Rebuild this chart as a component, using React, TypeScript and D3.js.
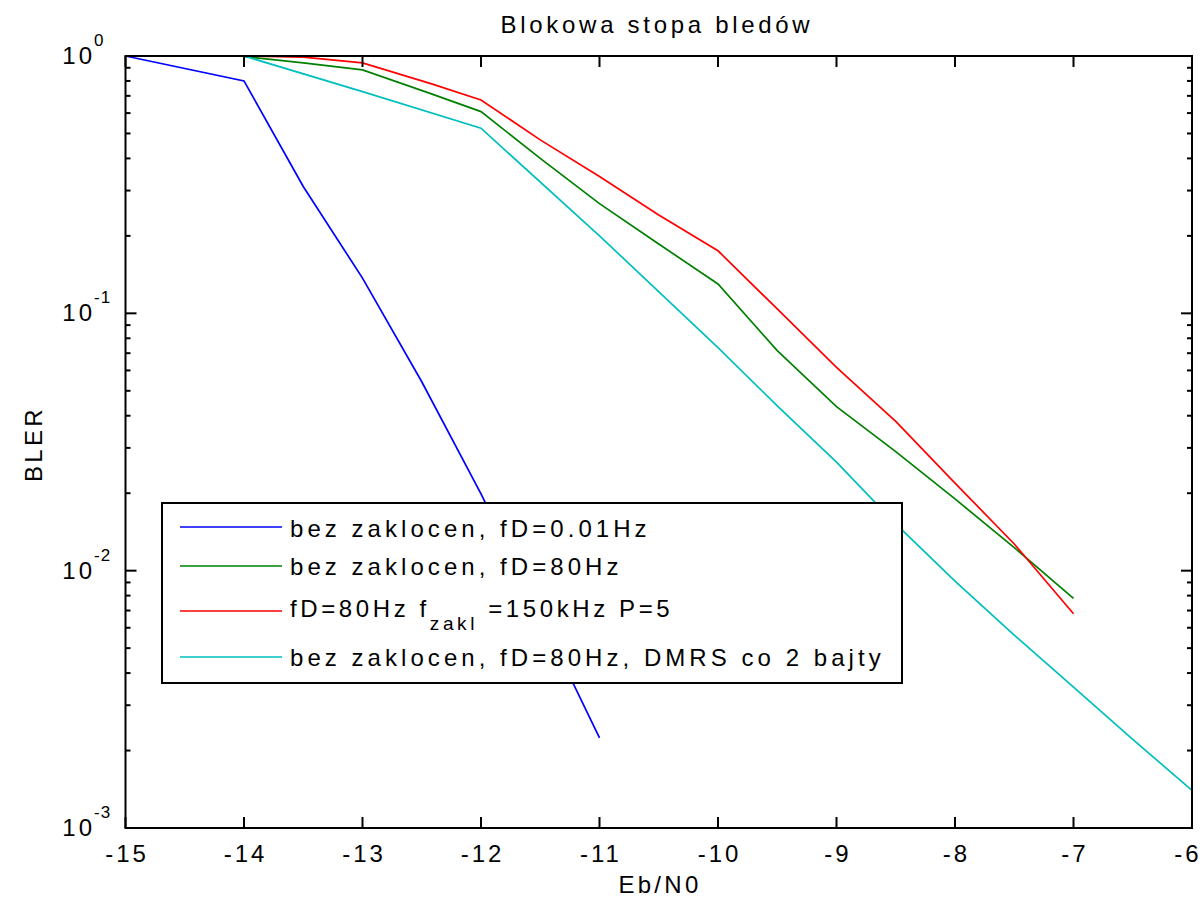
import React from "react";
import * as d3 from "d3";

const xTicks = [-15, -14, -13, -12, -11, -10, -9, -8, -7, -6];
const yDecades = [1, 0.1, 0.01, 0.001];
const yExponents = ["0", "-1", "-2", "-3"];

const xBlue = [-15, -14, -13.5, -13, -12.5, -12, -11.5, -11];
const blueVals = [1.0, 0.8, 0.311, 0.137, 0.0542, 0.0199, 0.0067, 0.00224];

const xGreen = [-14, -13.5, -13, -12.43, -12, -11.5, -11, -10.5, -10, -9.5, -9, -8.5, -8, -7.5, -7];
const greenVals = [0.995, 0.94, 0.883, 0.716, 0.608, 0.4, 0.267, 0.186, 0.13, 0.0716, 0.0434, 0.029, 0.019, 0.0123, 0.0078];

const xRed = [-14, -13.5, -13, -12.43, -12, -11.5, -11, -10.5, -10, -9.5, -9, -8.5, -8, -7.5, -7];
const redVals = [1.0, 0.99, 0.94, 0.783, 0.675, 0.472, 0.34, 0.241, 0.175, 0.104, 0.0617, 0.038, 0.0219, 0.0127, 0.0068];

const xCyan = [-14, -13, -12, -11, -10, -9.5, -9, -8.5, -8, -7.5, -7, -6.5, -6];
const cyanVals = [1.0, 0.727, 0.524, 0.2, 0.0736, 0.0437, 0.0264, 0.0152, 0.0091, 0.00562, 0.00353, 0.00221, 0.0014];

const seriesNames = [
  "bez zaklocen, fD=0.01Hz",
  "bez zaklocen, fD=80Hz",
  "fD=80Hz f_zakl =150kHz P=5",
  "bez zaklocen, fD=80Hz, DMRS co 2 bajty",
];
const seriesColors = ["#0000ff", "#008000", "#ff0000", "#00bfbf"];

const W = 1204;
const H = 903;
const L = 125.5, R = 1192, T = 56, B = 828;
const FONT = "'Liberation Sans', Arial, sans-serif";

export default function App() {
  const x = d3.scaleLinear().domain([-15, -6]).range([L, R]);
  const y = d3.scaleLog().domain([1e-3, 1]).range([B, T]);
  const line = d3
    .line<[number, number]>()
    .x((d) => x(d[0]))
    .y((d) => y(d[1]));

  const series = [
    { xs: xBlue, ys: blueVals },
    { xs: xGreen, ys: greenVals },
    { xs: xRed, ys: redVals },
    { xs: xCyan, ys: cyanVals },
  ];

  const minor: number[] = [];
  [1, 0.1, 0.01].forEach((d) => {
    for (let k = 2; k <= 9; k++) minor.push((d / 10) * k);
  });

  const legRows = [527, 566, 611, 657];
  const legBase = [537, 575, 617, 666];

  return (
    <svg
      width={W}
      height={H}
      style={{ position: "absolute", left: 0, top: 0, background: "#fff" }}
      fontFamily={FONT}
    >
      <rect x={0} y={0} width={W} height={H} fill="#fff" />
      {series.map((s, i) => (
        <path
          key={i}
          d={line(s.xs.map((v, j) => [v, s.ys[j]] as [number, number])) || ""}
          fill="none"
          stroke={seriesColors[i]}
          strokeWidth={1.7}
        />
      ))}
      <rect x={L} y={T} width={R - L} height={B - T} fill="none" stroke="#000" strokeWidth={2} />
      {xTicks.map((t) => (
        <g key={"x" + t}>
          <line x1={x(t)} x2={x(t)} y1={B} y2={B - 11} stroke="#000" strokeWidth={2} />
          <line x1={x(t)} x2={x(t)} y1={T} y2={T + 11} stroke="#000" strokeWidth={2} />
          <text
            x={Math.min(x(t) + 1.5, W - 16)}
            y={862}
            textAnchor="middle"
            fontSize={24}
            letterSpacing={3}
            fill="#000"
          >
            {String(t)}
          </text>
        </g>
      ))}
      {yDecades.map((d, i) => (
        <g key={"y" + d}>
          <line x1={L} x2={L + 11} y1={y(d)} y2={y(d)} stroke="#000" strokeWidth={2} />
          <line x1={R} x2={R - 11} y1={y(d)} y2={y(d)} stroke="#000" strokeWidth={2} />
          <text x={95} y={y(d) + 8} textAnchor="end" fontSize={24} letterSpacing={3} fill="#000">
            10
          </text>
          <text x={94} y={y(d) - 10} fontSize={17} letterSpacing={1} fill="#000">
            {yExponents[i]}
          </text>
        </g>
      ))}
      {minor.map((m) => (
        <g key={"m" + m}>
          <line x1={L} x2={L + 5} y1={y(m)} y2={y(m)} stroke="#000" strokeWidth={2} />
          <line x1={R} x2={R - 5} y1={y(m)} y2={y(m)} stroke="#000" strokeWidth={2} />
        </g>
      ))}
      <text x={657} y={33} textAnchor="middle" fontSize={24} letterSpacing={3.7} fill="#000">
        Blokowa stopa bledów
      </text>
      <text x={660} y={893} textAnchor="middle" fontSize={24} letterSpacing={3.3} fill="#000">
        Eb/N0
      </text>
      <text
        transform={`translate(42,444) rotate(-90)`}
        textAnchor="middle"
        fontSize={24}
        letterSpacing={3.3}
        fill="#000"
      >
        BLER
      </text>
      <rect x={162} y={503} width={740} height={180} fill="#fff" stroke="#000" strokeWidth={2} />
      {seriesNames.map((name, i) => (
        <g key={"leg" + i}>
          <line x1={180} x2={282} y1={legRows[i]} y2={legRows[i]} stroke={seriesColors[i]} strokeWidth={1.7} />
          {i === 2 ? (
            <text x={290} y={legBase[i]} fontSize={24} letterSpacing={3.6} fill="#000">
              <tspan>fD=80Hz f</tspan>
              <tspan fontSize={19} dy={13}>zakl</tspan>
              <tspan dy={-13}> =150kHz P=5</tspan>
            </text>
          ) : (
            <text x={290} y={legBase[i]} fontSize={24} letterSpacing={4.05} fill="#000">
              {name}
            </text>
          )}
        </g>
      ))}
    </svg>
  );
}
